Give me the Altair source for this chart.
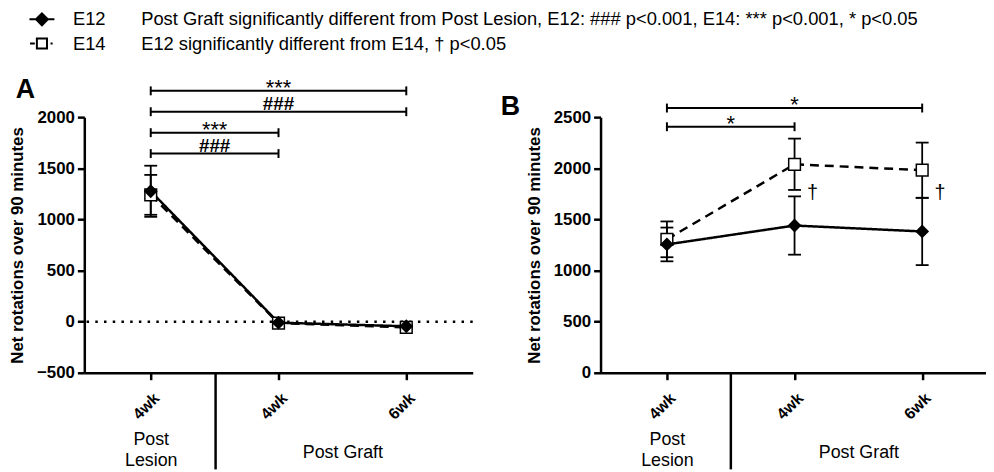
import json
import altair as alt
import pandas as pd

FONT = "Liberation Sans"
NBSP = "\u00a0"

# ---------------- data ----------------
series = ["E12", "E14"]
legend_desc = [
    "Post Graft significantly different from Post Lesion, E12: ### p<0.001, E14: *** p<0.001, * p<0.05",
    "E12 significantly different from E14, \u2020 p<0.05",
]
tick_pos = [1, 2, 3]
tick_labels = ["4wk", "4wk", "6wk"]
group_pos = [1, 2.5]
group_labels = ["Post Lesion", "Post Graft"]
separator_pos = [1.5]
y_title = "Net rotations over 90 minutes"

# Panel A (mean, SEM)
a_e12_mean = [1275, -10, -45]
a_e12_sem = [250, 12, 12]
a_e14_mean = [1240, -15, -55]
a_e14_sem = [195, 12, 12]
a_sig_start = [1, 1, 1, 1]
a_sig_end = [3, 3, 2, 2]
a_sig_y = [2257, 2053, 1848, 1644]
a_sig_label = ["***", "###", "***", "###"]

# Panel B (mean, SEM)
b_e12_mean = [1255, 1440, 1382]
b_e12_sem = [165, 285, 329]
b_e14_mean = [1305, 2039, 1981]
b_e14_sem = [175, 251, 270]
b_sig_start = [1, 1]
b_sig_end = [3, 2]
b_sig_y = [2589, 2406]
b_sig_label = ["*", "*"]
b_dagger_pos = [2, 3]
b_dagger_y = [1760, 1755]
b_dagger_label = ["\u2020", "\u2020"]


def make_points(e12m, e12s, e14m, e14s):
    rows = []
    for s, means, sems in [("E14", e14m, e14s), ("E12", e12m, e12s)]:
        for p, m, e in zip(tick_pos, means, sems):
            rows.append({"pos": p, "series": s, "mean": m, "lo": m - e, "hi": m + e})
    return pd.DataFrame(rows)


def make_sig(starts, ends, ys, labels):
    return pd.DataFrame({"x1": starts, "x2": ends, "y": ys, "label": labels})


tick_expr = json.dumps(tick_labels) + "[round(datum.value) - 1]"
group1_expr = json.dumps(group_labels[0].split(" "))
group2_expr = json.dumps(group_labels[1])

common_axis = dict(grid=False, domainColor="black", tickColor="black",
                   labelColor="black", titleColor="black", labelFont=FONT, titleFont=FONT)


def group_axis(value, expr, padding):
    return alt.Axis(values=[value], labelExpr=expr, ticks=False, tickSize=0, domain=False,
                    title=None, orient="bottom", labelAngle=0, labelFontSize=18,
                    labelPadding=padding, labelBaseline="middle", labelLineHeight=22,
                    labelFlush=False, labelOverlap=False, **common_axis)


def panel(letter, pts, sig, y_domain, y_values, x_domain, width, height,
          zero_line, daggers, title_dx, title_offset):
    xs = alt.Scale(domain=x_domain, nice=False, zero=False)
    ys = alt.Scale(domain=y_domain, nice=False, zero=False)
    yax = alt.Axis(values=y_values, format="d", title=y_title, labelFontWeight="bold",
                   labelFontSize=17, titleFontWeight="bold", titleFontSize=17, tickSize=7,
                   tickWidth=2.5, domainWidth=2.5, labelPadding=3, titlePadding=10, **common_axis)
    x_main = alt.Axis(values=tick_pos, labelExpr=tick_expr, labelAngle=-45, labelFontWeight="bold",
                      labelFontSize=16, tickSize=7, tickWidth=2.5, domainWidth=2.5, title=None,
                      orient="bottom", labelPadding=10, **common_axis)
    x_sep = alt.Axis(values=separator_pos, labels=False, tickSize=97, tickWidth=2.5, domain=False,
                     title=None, orient="bottom", **common_axis)
    x_grp1 = group_axis(group_pos[0], group1_expr, 67)
    x_grp2 = group_axis(group_pos[1], group2_expr, 80)

    base = alt.Chart(pts)
    layers = []
    if zero_line:
        layers.append(
            alt.Chart(pd.DataFrame({"v": [0]})).mark_rule(
                color="black", strokeWidth=2.5, strokeDash=[2.5, 6.3]
            ).encode(y=alt.Y("v:Q", scale=ys, axis=yax))
        )
    layers.append(
        base.mark_rule(color="black", strokeWidth=1.8).encode(
            x=alt.X("pos:Q", scale=xs, axis=x_main),
            y=alt.Y("lo:Q", scale=ys, axis=yax), y2="hi:Q")
    )
    layers.append(
        base.transform_fold(["lo", "hi"], as_=["end", "val"]).mark_tick(
            orient="horizontal", size=13, thickness=1.8, color="black", opacity=1
        ).encode(x=alt.X("pos:Q", scale=xs, axis=None), y=alt.Y("val:Q", scale=ys, axis=yax))
    )
    layers.append(
        base.mark_line(color="black", strokeWidth=2.5).encode(
            x=alt.X("pos:Q", scale=xs, axis=x_sep),
            y=alt.Y("mean:Q", scale=ys, axis=yax),
            strokeDash=alt.StrokeDash("series:N", scale=alt.Scale(domain=series, range=[[1, 0], [9, 6]]),
                                      legend=None))
    )
    layers.append(
        base.mark_point(filled=True, stroke="black", strokeWidth=1.5, opacity=1, size=140).encode(
            x=alt.X("pos:Q", scale=xs, axis=x_grp1),
            y=alt.Y("mean:Q", scale=ys, axis=yax),
            shape=alt.Shape("series:N", scale=alt.Scale(domain=series, range=["diamond", "square"]),
                            legend=None),
            fill=alt.Fill("series:N", scale=alt.Scale(domain=series, range=["black", "white"]),
                          legend=None))
    )
    sb = alt.Chart(sig)
    layers.append(
        sb.mark_rule(color="black", strokeWidth=2).encode(
            x=alt.X("x1:Q", scale=xs, axis=x_grp2), x2="x2:Q", y=alt.Y("y:Q", scale=ys, axis=yax))
    )
    layers.append(
        sb.transform_fold(["x1", "x2"], as_=["end", "xv"]).mark_tick(
            orient="vertical", size=9, thickness=2, color="black", opacity=1
        ).encode(x=alt.X("xv:Q", scale=xs, axis=None), y=alt.Y("y:Q", scale=ys, axis=yax))
    )
    layers.append(
        sb.transform_filter("indexof(datum.label, '*') >= 0")
        .transform_calculate(mid="(datum.x1 + datum.x2) / 2")
        .mark_text(font=FONT, fontSize=22, baseline="alphabetic", dy=4, color="black")
        .encode(x=alt.X("mid:Q", scale=xs, axis=None), y=alt.Y("y:Q", scale=ys, axis=yax),
                text="label:N")
    )
    layers.append(
        sb.transform_filter("indexof(datum.label, '#') >= 0")
        .transform_calculate(mid="(datum.x1 + datum.x2) / 2")
        .mark_text(font=FONT, fontSize=19, fontWeight="bold", baseline="alphabetic", dy=-2,
                   color="black")
        .encode(x=alt.X("mid:Q", scale=xs, axis=None), y=alt.Y("y:Q", scale=ys, axis=yax),
                text="label:N")
    )
    if daggers is not None:
        layers.append(
            alt.Chart(daggers).mark_text(font=FONT, fontSize=20, baseline="middle", dx=18,
                                         color="black")
            .encode(x=alt.X("pos:Q", scale=xs, axis=None), y=alt.Y("y:Q", scale=ys, axis=yax),
                    text="label:N")
        )
    return alt.layer(*layers).resolve_axis(x="independent").properties(
        width=width, height=height,
        title=alt.TitleParams(letter, anchor="start", font=FONT, fontSize=27, fontWeight="bold",
                              color="black", dx=title_dx, offset=title_offset),
    )


pts_a = make_points(a_e12_mean, a_e12_sem, a_e14_mean, a_e14_sem)
pts_b = make_points(b_e12_mean, b_e12_sem, b_e14_mean, b_e14_sem)
sig_a = make_sig(a_sig_start, a_sig_end, a_sig_y, a_sig_label)
sig_b = make_sig(b_sig_start, b_sig_end, b_sig_y, b_sig_label)
dag_b = pd.DataFrame({"pos": b_dagger_pos, "y": b_dagger_y, "label": b_dagger_label})

chart_a = panel("A", pts_a, sig_a, [-500, 2000], [-500, 0, 500, 1000, 1500, 2000],
                [0.48, 3.52], 392, 258, True, None, 7, -27)
chart_b = panel("B", pts_b, sig_b, [0, 2500], [0, 500, 1000, 1500, 2000, 2500],
                [0.48, 3.5], 389, 258, False, dag_b, -25, -27)

# ---------------- legend ----------------
entries = [s + NBSP * 7 + d for s, d in zip(series, legend_desc)]
legend_df = pd.DataFrame({"entry": entries})
path_e12 = "M-2.1,0H2.1M0,-1L1,0L0,1L-1,0Z"
path_e14 = "M-2,0H-1.2M-0.85,-0.85H0.85V0.85H-0.85ZM1.45,0H1.8"
leg = dict(title=None, orient="none", legendX=-52, legendY=0, labelFont=FONT, labelFontSize=18.5,
           labelColor="black", labelOffset=22, symbolSize=144, symbolStrokeColor="black",
           symbolStrokeWidth=2, rowPadding=4.5, labelLimit=1000, padding=0)
legend_chart = alt.Chart(legend_df).transform_filter("false").mark_point(
    filled=True, stroke="black", strokeWidth=2, opacity=1
).encode(
    shape=alt.Shape("entry:N", scale=alt.Scale(domain=entries, range=[path_e12, path_e14]),
                    legend=alt.Legend(**leg)),
    fill=alt.Fill("entry:N", scale=alt.Scale(domain=entries, range=["black", "white"]),
                  legend=alt.Legend(**leg)),
    stroke=alt.Stroke("entry:N", scale=alt.Scale(domain=entries, range=["black", "black"]),
                      legend=alt.Legend(**leg)),
).properties(width=900, height=1)

chart = alt.vconcat(
    legend_chart,
    alt.hconcat(chart_a, chart_b, spacing=26),
    spacing=22,
).resolve_scale(shape="independent", fill="independent", stroke="independent",
                strokeDash="independent").properties(
    padding=0, background="white"
).configure_view(stroke=None)

chart.save("out.html", embed_options={"renderer": "svg", "actions": False})
